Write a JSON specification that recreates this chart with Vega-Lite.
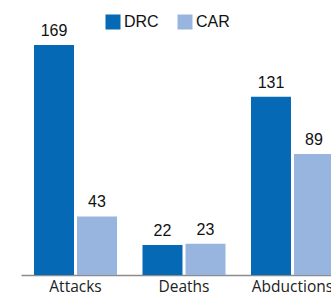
{
  "$schema": "https://vega.github.io/schema/vega-lite/v6.json",
  "autosize": "none",
  "padding": {"left": 21, "top": 45, "right": 0, "bottom": 20},
  "width": 326,
  "height": 230,
  "background": "white",
  "config": {"view": {"stroke": null}},
  "data": {
    "values": [
      {"category": "Attacks", "country": "DRC", "value": 169},
      {"category": "Attacks", "country": "CAR", "value": 43},
      {"category": "Deaths", "country": "DRC", "value": 22},
      {"category": "Deaths", "country": "CAR", "value": 23},
      {"category": "Abductions", "country": "DRC", "value": 131},
      {"category": "Abductions", "country": "CAR", "value": 89}
    ]
  },
  "encoding": {
    "x": {
      "field": "category", "type": "nominal", "sort": ["Attacks", "Deaths", "Abductions"],
      "scale": {"paddingInner": 0.235, "paddingOuter": 0.12},
      "axis": {"title": null, "labelAngle": 0, "ticks": false, "domainColor": "#8c8c8c", "domainWidth": 1.5,
               "labelFont": "Open Sans", "labelFontSize": 15.5, "labelColor": "#222", "labelPadding": 4}
    },
    "xOffset": {"field": "country", "type": "nominal", "sort": ["DRC", "CAR"], "scale": {"paddingInner": 0.07}},
    "y": {"field": "value", "type": "quantitative", "scale": {"domain": [0, 169], "nice": false}, "axis": null}
  },
  "layer": [
    {
      "mark": {"type": "bar"},
      "encoding": {
        "color": {
          "field": "country", "type": "nominal",
          "scale": {"domain": ["DRC", "CAR"], "range": ["#0569b5", "#97b5df"]},
          "legend": {
            "title": null, "orient": "none", "direction": "horizontal",
            "legendX": 84, "legendY": -31,
            "symbolType": "square", "symbolSize": 225, "symbolStrokeWidth": 0, "symbolOpacity": 1,
            "labelFont": "Liberation Sans", "labelFontSize": 16, "labelColor": "#111",
            "labelOffset": 3, "columnPadding": 18, "padding": 0
          }
        }
      }
    },
    {
      "mark": {"type": "text", "baseline": "bottom", "dy": -6, "font": "Liberation Sans", "fontSize": 16, "color": "#111"},
      "encoding": {"text": {"field": "value", "type": "quantitative"}}
    }
  ]
}
